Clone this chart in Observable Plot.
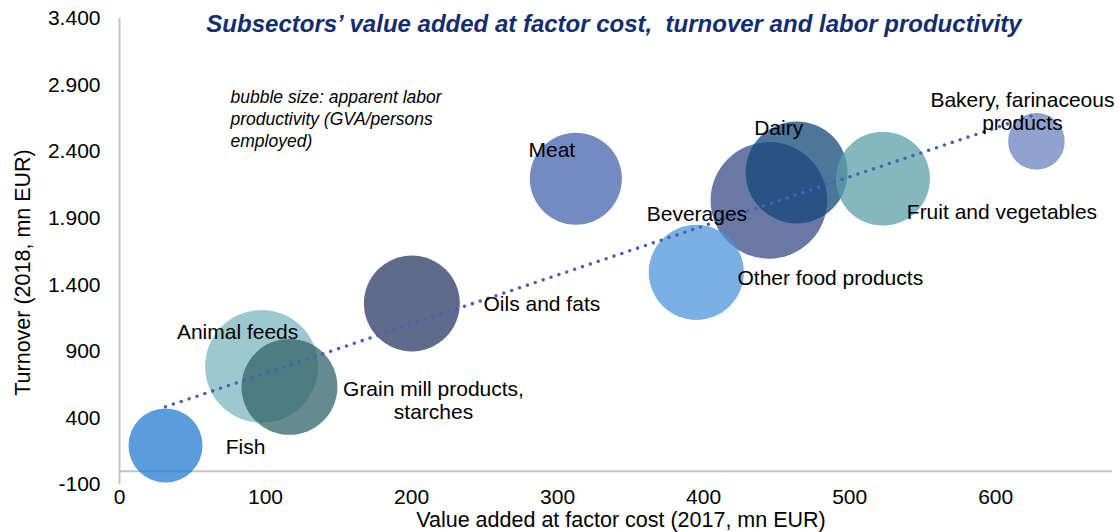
<!DOCTYPE html>
<html>
<head>
<meta charset="utf-8">
<script src="https://cdn.jsdelivr.net/npm/d3@7"></script>
<script src="https://cdn.jsdelivr.net/npm/@observablehq/plot@0.6"></script>
<style>
  html, body { margin: 0; padding: 0; background: #fff; }
  #chart { width: 1119px; height: 532px; overflow: hidden; }
</style>
</head>
<body>
<div id="chart"></div>
<script>
// ---- data ----
const sectors = [
  "Fish", "Grain mill products, starches", "Animal feeds", "Oils and fats", "Meat",
  "Other food products", "Fruit and vegetables", "Dairy", "Beverages", "Bakery, farinaceous products"
];
const labelText = [
  "Fish", "Grain mill products,\nstarches", "Animal feeds", "Oils and fats", "Meat",
  "Other food products", "Fruit and vegetables", "Dairy", "Beverages", "Bakery, farinaceous\nproducts"
];
// value added at factor cost (2017, mn EUR)
const valueAdded2017 = [31.5, 116.4, 97.3, 200.2, 312.5, 395.0, 522.8, 463.7, 444.7, 627.9];
// turnover (2018, mn EUR)
const turnover2018 = [193, 633, 787, 1260, 2197, 1493, 2197, 2244, 2034, 2477];
// bubble size: apparent labor productivity (GVA / persons employed)
const laborProductivity = [13.7, 23.0, 31.9, 23.0, 21.2, 22.6, 22.1, 26.0, 34.0, 8.0];

const xTicks = [0, 100, 200, 300, 400, 500, 600];
const yTicks = [-100, 400, 900, 1400, 1900, 2400, 2900, 3400];

const titleText = "Subsectors\u2019 value added at factor cost,\u00a0 turnover and labor productivity";
const noteText = "bubble size: apparent labor\nproductivity (GVA/persons\nemployed)";
const xLabel = "Value added at factor cost (2017, mn EUR)";
const yLabel = "Turnover (2018, mn EUR)";

// ---- styling (kept apart from the data) ----
const bubbleColors = ["#247bd0", "#306467", "#7cb6bc", "#2b3a66", "#4663ab",
                      "#4e96db", "#58a0a8", "#134778", "#384b88", "#6a83c0"];
const labelDx = [80, 144, -24, 130, -24, 134, 119, -18, -72, -14];
const labelDy = [1, 13, -35, 0, -29, 5, 33, -45, 13, -30];

const fmt = d => String(d).replace(/\B(?=(\d{3})+(?!\d))/g, ".");

const rows = sectors.map((name, i) => ({
  name, label: labelText[i],
  x: valueAdded2017[i], y: turnover2018[i], r: laborProductivity[i],
  color: bubbleColors[i]
}));

const font = "'Liberation Sans', Arial, Helvetica, sans-serif";

const chart = Plot.plot({
  width: 1119,
  height: 532,
  marginLeft: 119,
  marginRight: 7,
  marginTop: 18,
  marginBottom: 48,
  style: { fontFamily: font, fontSize: "21px", color: "#000", background: "#fff", overflow: "visible" },
  x: { domain: [0, 680], ticks: xTicks, tickSize: 0, tickPadding: 5, tickFormat: fmt, label: null },
  y: { domain: [-100, 3400], ticks: yTicks, tickSize: 0, tickPadding: 19, tickFormat: fmt, label: null },
  r: { domain: [0, 34], range: [0, 58.3] },
  color: { type: "identity" },
  marks: [
    Plot.ruleX([0], { stroke: "#c4c4c4", strokeWidth: 2 }),
    Plot.ruleY([0], { stroke: "#c4c4c4", strokeWidth: 2 }),
    Plot.dot(rows, { x: "x", y: "y", r: "r", fill: "color", fillOpacity: 0.75, stroke: null }),
    Plot.linearRegressionY(rows, {
      x: "x", y: "y", ci: 0, stroke: "#4a62b0", strokeWidth: 3.6,
      strokeDasharray: "0,8.3", strokeLinecap: "round"
    }),
    ...rows.map((d, i) => Plot.text([d], {
      x: "x", y: "y", text: "label", dx: labelDx[i], dy: labelDy[i],
      fill: "#000", fontSize: 21, lineHeight: 1.1, textAnchor: "middle", lineAnchor: "middle"
    })),
    Plot.text([titleText], {
      frameAnchor: "top", dx: -2, dy: 6, text: d => d, textAnchor: "middle", lineAnchor: "middle",
      fontSize: 24, fontWeight: "bold", fontStyle: "italic", fill: "#142d6e"
    }),
    Plot.text([noteText], {
      frameAnchor: "top-left", dx: 111, dy: 99, text: d => d, textAnchor: "start",
      lineAnchor: "middle", lineHeight: 1.26, fontSize: 17.5, fontStyle: "italic", fill: "#000"
    }),
    Plot.text([xLabel], {
      frameAnchor: "bottom", dx: 5, dy: 36, text: d => d, textAnchor: "middle", lineAnchor: "middle",
      fontSize: 21.5, fill: "#000"
    }),
    Plot.text([yLabel], {
      frameAnchor: "left", dx: -96, dy: 21, rotate: -90, text: d => d, textAnchor: "middle",
      lineAnchor: "middle", fontSize: 21.5, fill: "#000"
    })
  ]
});

document.getElementById("chart").appendChild(chart);
</script>
</body>
</html>
